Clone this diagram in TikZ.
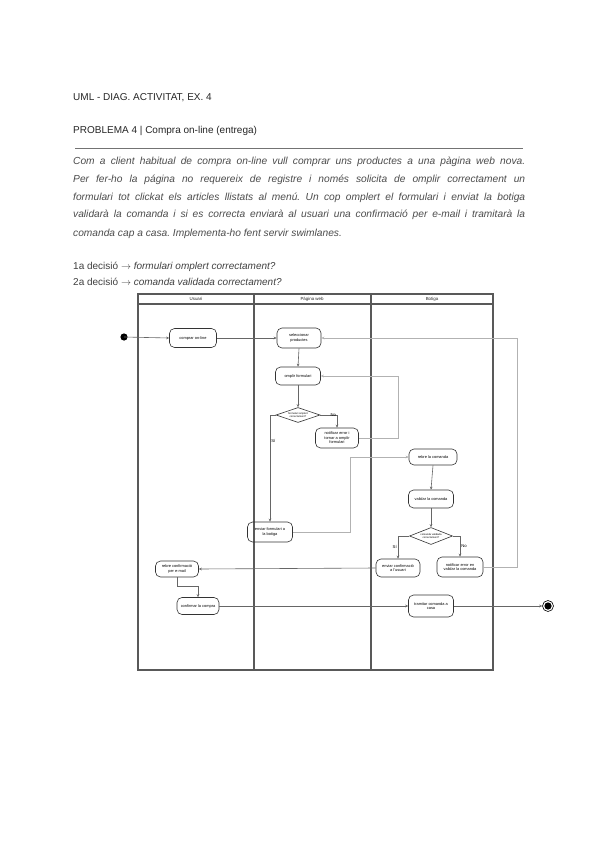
\documentclass[tikz,border=0pt]{standalone}
\usepackage{fontspec}
\setmainfont{Liberation Sans}
\usetikzlibrary{shapes.geometric,arrows.meta}
\frenchspacing
\begin{document}
\begin{tikzpicture}[x=1pt,y=-1pt,
  act/.style={draw=black!80, line width=0.6pt, rounded corners=5pt, inner sep=0pt,
    font=\fontsize{3.9}{4.5}\selectfont, align=center},
  dec/.style={draw=black!80, line width=0.6pt, diamond, aspect=2.8, inner sep=0pt,
    font=\fontsize{2.6}{3}\selectfont, align=center},
  conn/.style={draw=black!60, line width=0.6pt, -{Stealth[length=3pt,width=2.6pt]}},
  lconn/.style={draw=black!30, line width=0.6pt, -{Stealth[length=3pt,width=2.6pt]}},
  lane/.style={draw=black!65, line width=1.2pt},
  lanelbl/.style={font=\fontsize{4.4}{5}\selectfont, text=black!85},
  guard/.style={font=\fontsize{4.2}{5}\selectfont, inner sep=1pt},
  toptext/.style={anchor=base west, inner sep=0pt, text=black!85, font=\fontsize{10}{12}\selectfont}
]
\useasboundingbox (0,0) rectangle (600,848);
\fill[white] (0,0) rectangle (600,848);

% header texts
\node[toptext] (title) at (73,101) {UML - DIAG. ACTIVITAT, EX. 4};
\node[toptext] (prob) at (73,133) {PROBLEMA 4 | Compra on-line (entrega)};
\coordinate (rl) at (75,148);
\coordinate (rr) at (523,148);
\draw[black!55, line width=0.6pt] (rl) -- (rr);
\node[anchor=base west, inner sep=0pt, text=black!70] (para) at (73,164)
 {\parbox[t]{452pt}{\fontsize{10.2}{18}\selectfont\itshape\frenchspacing
 Com a client habitual de compra on-line vull comprar uns productes a una pàgina web nova.\linebreak
 Per fer-ho la página no requereix de registre i només solicita de omplir correctament un\linebreak
 formulari tot clickat els articles llistats al menú. Un cop omplert el formulari i enviat la botiga\linebreak
 validarà la comanda i si es correcta enviarà al usuari una confirmació per e-mail i tramitarà la\linebreak
 comanda cap a casa. Implementa-ho fent servir swimlanes.}};
\node[toptext, text=black!75] (q1) at (73,269) {1a decisió $\rightarrow$ \textit{formulari omplert correctament?}};
\node[toptext, text=black!75] (q2) at (73,285) {2a decisió $\rightarrow$ \textit{comanda validada correctament?}};

% swimlanes
\draw[lane] (138,294) rectangle (493,670);
\draw[lane] (138,304) -- (493,304);
\draw[lane] (254,294) -- (254,670);
\draw[lane] (371,294) -- (371,670);
\node[lanelbl] (l1) at (196,299) {Usuari};
\node[lanelbl] (l2) at (312,299) {Pàgina web};
\node[lanelbl] (l3) at (432,299) {Botiga};

% nodes
\fill[black] (124,337) circle (3.6pt);
\coordinate (start) at (124,337);
\node[act, minimum width=47pt, minimum height=19pt] (comp) at (193,338) {comprar on-line};
\node[act, minimum width=44pt, minimum height=20pt] (sel) at (299,338) {seleccionar\\productes};
\node[act, minimum width=45pt, minimum height=18pt] (omp) at (298,376) {omplir formulari};
\node[dec, minimum width=44pt, minimum height=15pt] (d1) at (298,415) {formulari omplert\\correctament?};
\node[act, minimum width=43pt, minimum height=20pt] (notif) at (337,438) {notificar error i\\tornar a omplir\\formulari};
\node[act, minimum width=45pt, minimum height=20pt] (env) at (270,532) {enviar formulari a\\la botiga};
\node[act, minimum width=48pt, minimum height=16pt] (reb) at (433,457) {rebre la comanda};
\node[act, minimum width=45pt, minimum height=18pt] (val) at (431,499) {validar la comanda};
\node[dec, minimum width=43pt, minimum height=17pt] (d2) at (431,536) {comanda validada\\correctament?};
\node[act, minimum width=44pt, minimum height=18pt] (conf) at (398,568) {enviar confirmació\\a l'usuari};
\node[act, minimum width=46pt, minimum height=20pt] (err) at (460,567) {notificar error en\\validar la comanda};
\node[act, minimum width=43pt, minimum height=16pt] (rconf) at (177,569) {rebre confirmació\\per e-mail};
\node[act, minimum width=42pt, minimum height=17pt] (rcom) at (198,606) {confirmar la compra};
\node[act, minimum width=45pt, minimum height=22pt] (tram) at (431,606) {tramitar comanda a\\casa};
\node[circle, draw=black, line width=0.6pt, minimum size=11pt, inner sep=0pt] (end) at (548,606) {};
\fill[black] (end.center) circle (3.6pt);

% routing coordinates
\coordinate (xr) at (517,0);
\coordinate (xn) at (398,0);
\coordinate (xe) at (350,0);

% connectors
\draw[conn] (start) -- (comp.west);
\draw[conn] (comp.east) -- (sel.west);
\draw[conn] (sel.south) -- (omp.north);
\draw[conn] (omp.south) -- (d1.north);
\draw[conn] (d1.east) -| node[guard, pos=0.3, above right, xshift=-1pt, yshift=-2.5pt] {No} (notif.north);
\draw[lconn] (notif.east) -- (notif.east -| xn) -- (omp.east -| xn) -- (omp.east);
\draw[conn] (d1.west) -| node[guard, pos=0.62, right] {Sí} (env.north);
\draw[lconn] (env.east) -- (env.east -| xe) |- (reb.west);
\draw[conn] (reb.south) -- (val.north);
\draw[conn] (val.south) -- (d2.north);
\draw[conn] (d2.west) -| node[guard, pos=0.75, left] {Sí} (conf.north);
\draw[conn] (d2.east) -| node[guard, pos=0.75, right] {No} (err.north);
\draw[lconn] (err.east) -- (err.east -| xr) -- (sel.east -| xr) -- (sel.east);
\draw[conn] (conf.west) -- (rconf.east);
\draw[conn] (rconf.south) -- ++(0,9) -| (rcom.north);
\draw[conn] (rcom.east) -- (tram.west);
\draw[conn] (tram.east) -- (end.west);
\end{tikzpicture}
\end{document}
